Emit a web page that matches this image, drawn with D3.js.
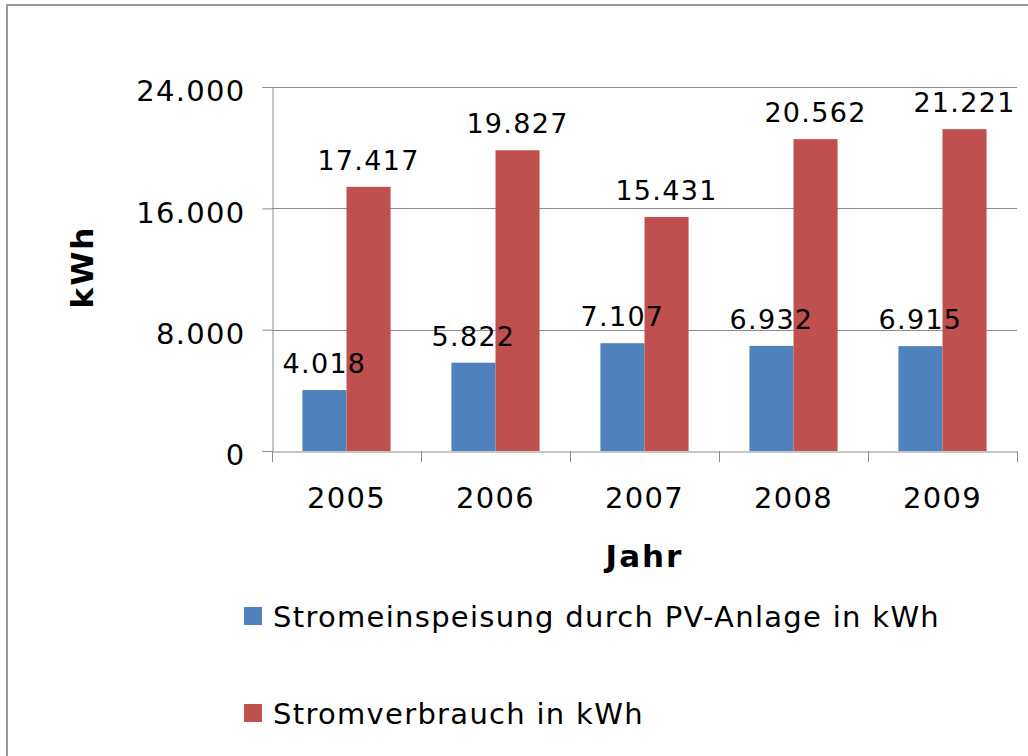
<!DOCTYPE html>
<html>
<head>
<meta charset="utf-8">
<script src="https://cdn.jsdelivr.net/npm/d3@7"></script>
<style>
  body { margin: 0; background: #fff; }
  text { font-family: "DejaVu Sans", Verdana, sans-serif; fill: #000; letter-spacing: 1.3px; }
</style>
</head>
<body>
<div id="chart"></div>
<script>
var years = ["2005", "2006", "2007", "2008", "2009"];
var seriesNames = ["Stromeinspeisung durch PV-Anlage in kWh", "Stromverbrauch in kWh"];
var einspeisung = [4018, 5822, 7107, 6932, 6915];
var verbrauch = [17417, 19827, 15431, 20562, 21221];
var yTicks = [0, 8000, 16000, 24000];
var colors = ["#4F81BD", "#C0504D"];

var W = 1028, H = 756;
var plotLeft = 272, plotRight = 1017, plotTop = 87, plotBottom = 451;

var de = d3.formatLocale({ decimal: ",", thousands: ".", grouping: [3], currency: ["", " €"] });
var fmt = de.format(",d");

var svg = d3.select("#chart").append("svg")
  .attr("width", W)
  .attr("height", H);

// outer frame
svg.append("rect")
  .attr("x", 7).attr("y", 5)
  .attr("width", W + 20).attr("height", H + 20)
  .attr("fill", "none")
  .attr("stroke", "#9a9a9a")
  .attr("stroke-width", 2);

var x0 = d3.scaleBand().domain(years).range([plotLeft, plotRight]).paddingInner(0).paddingOuter(0);
var x1 = d3.scaleBand().domain([0, 1]).range([0, x0.bandwidth()]).paddingInner(0).paddingOuter(0.69);
var y = d3.scaleLinear().domain([0, 24000]).range([plotBottom, plotTop]);

// gridlines
svg.append("g")
  .selectAll("line")
  .data(yTicks.filter(function(d) { return d > 0; }))
  .enter()
  .append("line")
  .attr("x1", plotLeft).attr("x2", plotRight)
  .attr("y1", function(d) { return Math.round(y(d)) + 0.5; })
  .attr("y2", function(d) { return Math.round(y(d)) + 0.5; })
  .attr("stroke", "#8c8c8c")
  .attr("stroke-width", 1);

// bars
var rows = years.map(function(yr, i) { return { year: yr, vals: [einspeisung[i], verbrauch[i]] }; });

var groups = svg.selectAll(".year")
  .data(rows)
  .enter()
  .append("g")
  .attr("class", "year")
  .attr("transform", function(d) { return "translate(" + x0(d.year) + ",0)"; });

groups.selectAll("rect")
  .data(function(d) { return d.vals.map(function(v, k) { return { k: k, v: v }; }); })
  .enter()
  .append("rect")
  .attr("x", function(d) { return x1(d.k); })
  .attr("width", x1.bandwidth())
  .attr("y", function(d) { return y(d.v); })
  .attr("height", function(d) { return plotBottom - y(d.v); })
  .attr("fill", function(d) { return colors[d.k]; });

groups.selectAll(".lbl")
  .data(function(d) { return d.vals.map(function(v, k) { return { k: k, v: v }; }); })
  .enter()
  .append("text")
  .attr("class", "lbl")
  .attr("x", function(d) { return x1(d.k) + x1.bandwidth() / 2; })
  .attr("y", function(d) { return y(d.v) - 17; })
  .attr("text-anchor", "middle")
  .style("font-size", "27px")
  .text(function(d) { return fmt(d.v); });

// y axis
var yAxis = d3.axisLeft(y).tickValues(yTicks).tickSize(10).tickPadding(17)
  .tickFormat(function(d) { return fmt(d); });
var gy = svg.append("g")
  .attr("transform", "translate(" + (plotLeft + 0.5) + ",0)")
  .call(yAxis);
gy.select(".domain").attr("stroke", "#8c8c8c");
gy.selectAll(".tick line").attr("stroke", "#8c8c8c");
gy.selectAll(".tick text")
  .style("font-size", "29px")
  .attr("dy", "0.72em")
  .attr("y", -7);

// x axis
var xAxis = d3.axisBottom(x0).tickSize(0).tickPadding(0);
var gx = svg.append("g")
  .attr("transform", "translate(0," + (plotBottom + 0.5) + ")")
  .call(xAxis);
gx.select(".domain").attr("stroke", "#8c8c8c");
gx.selectAll(".tick text")
  .style("font-size", "29px")
  .attr("dy", 0)
  .attr("y", 56);

// category boundary ticks
svg.append("g")
  .selectAll("line")
  .data(years.concat(["end"]))
  .enter()
  .append("line")
  .attr("x1", function(d, i) { return Math.round(i < years.length ? x0(d) : plotRight) + 0.5; })
  .attr("x2", function(d, i) { return Math.round(i < years.length ? x0(d) : plotRight) + 0.5; })
  .attr("y1", plotBottom)
  .attr("y2", plotBottom + 11)
  .attr("stroke", "#8c8c8c");

// axis titles
svg.append("text")
  .attr("transform", "translate(93,267) rotate(-90)")
  .attr("text-anchor", "middle")
  .style("font-size", "31px")
  .style("font-weight", "bold")
  .style("letter-spacing", "2px")
  .text("kWh");

svg.append("text")
  .attr("x", (plotLeft + plotRight) / 2)
  .attr("y", 567)
  .attr("text-anchor", "middle")
  .style("font-size", "31px")
  .style("font-weight", "bold")
  .style("letter-spacing", "2px")
  .text("Jahr");

// legend
var legend = svg.selectAll(".legend")
  .data(seriesNames)
  .enter()
  .append("g")
  .attr("class", "legend")
  .attr("transform", function(d, i) { return "translate(244," + (607 + i * 97) + ")"; });

legend.append("rect")
  .attr("width", 18).attr("height", 18)
  .attr("fill", function(d, i) { return colors[i]; });

legend.append("text")
  .attr("x", 29)
  .attr("y", 20)
  .style("font-size", "29px")
  .text(function(d) { return d; });
</script>
</body>
</html>
